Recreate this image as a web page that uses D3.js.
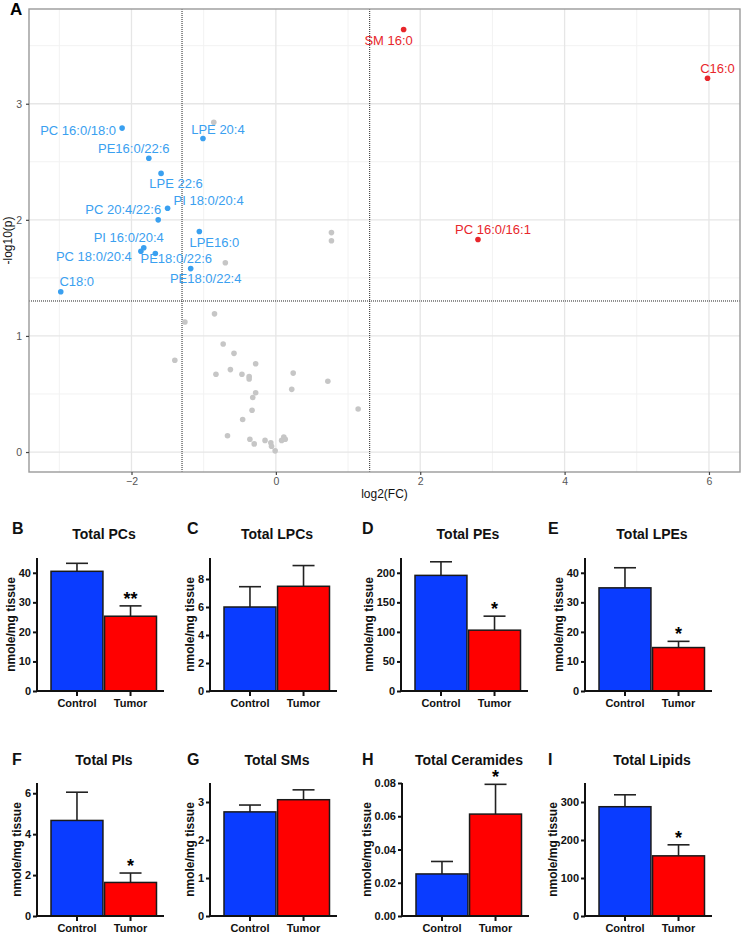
<!DOCTYPE html>
<html><head><meta charset="utf-8">
<script src="https://cdn.jsdelivr.net/npm/d3@7"></script>
<style>
body{margin:0;background:#fff}
svg{display:block;font-family:"Liberation Sans",Arial,Helvetica,sans-serif}
</style>
</head><body>
<svg id="c" width="742" height="934"></svg>
<script>
// ---------- Volcano data (panel A) ----------
const sigNames = ["SM 16:0","C16:0","PC 16:0/16:1","PC 16:0/18:0","LPE 20:4","PE16:0/22:6","LPE 22:6","PI 18:0/20:4","PC 20:4/22:6","LPE16:0","PI 16:0/20:4","PC 18:0/20:4","PE18:0/22:6","PE18:0/22:4","C18:0"];
const sigLog2FC = [1.77, 5.98, 2.80, -2.13, -1.01, -1.76, -1.59, -1.50, -1.63, -1.06, -1.83, -1.87, -1.67, -1.18, -2.98];
const sigNegLogP = [3.64, 3.22, 1.83, 2.79, 2.70, 2.53, 2.40, 2.10, 2.00, 1.90, 1.76, 1.73, 1.71, 1.58, 1.38];
const sigDirection = ["up","up","up","down","down","down","down","down","down","down","down","down","down","down","down"];
const nsLog2FC = [-0.85,-1.26,-1.40,-0.73,-0.58,-0.28,-0.83,-0.63,-0.47,-0.37,-0.37,0.24,0.72,0.22,-0.28,-0.32,1.14,-0.33,-0.46,-0.67,-0.36,-0.30,-0.15,-0.07,-0.06,-0.01,0.08,0.11,0.13,-0.86,-0.70,0.77,0.77];
const nsNegLogP = [1.19,1.12,0.79,0.93,0.85,0.76,0.67,0.71,0.67,0.65,0.63,0.68,0.61,0.54,0.51,0.47,0.37,0.36,0.28,0.14,0.11,0.07,0.10,0.08,0.05,0.01,0.10,0.13,0.11,2.84,1.63,1.89,1.82];
const fcThresholds = [-1.3, 1.3];
const pThreshold = 1.301;
const volcanoXTicks = [-2, 0, 2, 4, 6];
const volcanoYTicks = [0, 1, 2, 3];
const volcanoXMinor = [-3, -1, 1, 3, 5];
const volcanoYMinor = [0.5, 1.5, 2.5, 3.5];

// label nudges (layout, px) for the repelled labels
const labelNudge = [[-15,11],[10,-10],[15,-10],[-44,2],[15,-9],[-15,-10],[15,10],[41,-8],[-35,-10],[15,11],[-15,-10],[-47,5],[21,5],[15,10],[16,-10]];

// ---------- Bar data (panels B–I) ----------
const panelLetters = ["B","C","D","E","F","G","H","I"];
const panelTitles = ["Total PCs","Total LPCs","Total PEs","Total LPEs","Total PIs","Total SMs","Total Ceramides","Total Lipids"];
const groupNames = ["Control","Tumor"];
const controlMean = [40.5, 6.0, 195.6, 34.9, 4.67, 2.74, 0.0253, 287.6];
const controlErr  = [2.7, 1.45, 23.0, 6.8, 1.38, 0.18, 0.0075, 31.4];
const tumorMean   = [25.3, 7.48, 102.9, 14.7, 1.64, 3.06, 0.0613, 158.3];
const tumorErr    = [3.5, 1.48, 23.7, 2.1, 0.46, 0.26, 0.0179, 29.0];
const tumorSig    = ["**", "", "*", "*", "*", "", "*", "*"];
const yAxisMax    = [45, 9.5, 225, 45, 6.5, 3.5, 0.08, 350];
const yTickValues = [[0,10,20,30,40],[0,2,4,6,8],[0,50,100,150,200],[0,10,20,30,40],[0,2,4,6],[0,1,2,3],[0,0.02,0.04,0.06,0.08],[0,100,200,300]];
const yTickFormats = ["d","d","d","d","d","d",".2f","d"];
const yAxisTitle = "nmole/mg tissue";

// ---------- Layout ----------
const svg = d3.select("#c");
const VP = {left: 29, right: 740, top: 9, bottom: 472};
const colUp = "#e8262b", colDown = "#3aa0f0", colNs = "#c6c6c6";

// ---------- Panel A ----------
const vx = d3.scaleLinear().domain([-3.42, 6.43]).range([VP.left, VP.right]);
const vy = d3.scaleLinear().domain([-0.172, 3.816]).range([VP.bottom, VP.top]);
const gA = svg.append("g");

gA.append("g").selectAll("line").data(volcanoXMinor).join("line")
  .attr("x1", d => vx(d)).attr("x2", d => vx(d)).attr("y1", VP.top).attr("y2", VP.bottom)
  .attr("stroke", "#f2f2f2").attr("stroke-width", 1);
gA.append("g").selectAll("line").data(volcanoYMinor).join("line")
  .attr("y1", d => vy(d)).attr("y2", d => vy(d)).attr("x1", VP.left).attr("x2", VP.right)
  .attr("stroke", "#f2f2f2").attr("stroke-width", 1);
gA.append("g").selectAll("line").data(volcanoXTicks).join("line")
  .attr("x1", d => vx(d)).attr("x2", d => vx(d)).attr("y1", VP.top).attr("y2", VP.bottom)
  .attr("stroke", "#e6e6e6").attr("stroke-width", 1.3);
gA.append("g").selectAll("line").data(volcanoYTicks).join("line")
  .attr("y1", d => vy(d)).attr("y2", d => vy(d)).attr("x1", VP.left).attr("x2", VP.right)
  .attr("stroke", "#e6e6e6").attr("stroke-width", 1.3);

// threshold lines
gA.append("g").selectAll("line").data(fcThresholds).join("line")
  .attr("x1", d => vx(d)).attr("x2", d => vx(d)).attr("y1", VP.top).attr("y2", VP.bottom)
  .attr("stroke", "#222").attr("stroke-width", 1).attr("stroke-dasharray", "1,1");
gA.append("line").attr("x1", VP.left).attr("x2", VP.right).attr("y1", vy(pThreshold)).attr("y2", vy(pThreshold))
  .attr("stroke", "#222").attr("stroke-width", 1).attr("stroke-dasharray", "1,1");

// points
gA.append("g").selectAll("circle").data(nsLog2FC.map((v,i)=>({x:v,y:nsNegLogP[i]}))).join("circle")
  .attr("cx", d => vx(d.x)).attr("cy", d => vy(d.y)).attr("r", 2.8).attr("fill", colNs);
const sig = sigNames.map((n,i)=>({name:n, x:sigLog2FC[i], y:sigNegLogP[i], dir:sigDirection[i], nudge:labelNudge[i]}));
gA.append("g").selectAll("circle").data(sig).join("circle")
  .attr("cx", d => vx(d.x)).attr("cy", d => vy(d.y)).attr("r", 2.8)
  .attr("fill", d => d.dir === "up" ? colUp : colDown);
gA.append("g").selectAll("text").data(sig).join("text")
  .attr("x", d => vx(d.x) + d.nudge[0]).attr("y", d => vy(d.y) + d.nudge[1])
  .attr("text-anchor", "middle").attr("dominant-baseline", "central")
  .attr("font-size", 13).attr("fill", d => d.dir === "up" ? colUp : colDown)
  .text(d => d.name);

// border
gA.append("rect").attr("x", VP.left).attr("y", VP.top).attr("width", VP.right - VP.left).attr("height", VP.bottom - VP.top)
  .attr("fill", "none").attr("stroke", "#9a9a9a").attr("stroke-width", 1.4);

// axes
const axXA = gA.append("g").attr("transform", `translate(0,${VP.bottom})`)
  .call(d3.axisBottom(vx).tickValues(volcanoXTicks).tickSize(3).tickPadding(3).tickFormat(d3.format("d")));
const axYA = gA.append("g").attr("transform", `translate(${VP.left},0)`)
  .call(d3.axisLeft(vy).tickValues(volcanoYTicks).tickSize(3).tickPadding(4).tickFormat(d3.format("d")));
[axXA, axYA].forEach(a => {
  a.select(".domain").remove();
  a.selectAll(".tick line").attr("stroke", "#444").attr("stroke-width", 1.2);
  a.selectAll(".tick text").attr("fill", "#555").attr("font-size", 10.5).attr("font-family", null);
});
gA.append("text").attr("x", (VP.left + VP.right) / 2).attr("y", 498).attr("text-anchor", "middle")
  .attr("font-size", 12).attr("fill", "#111").text("log2(FC)");
gA.append("text").attr("transform", `translate(12,${(VP.top + VP.bottom) / 2}) rotate(-90)`).attr("text-anchor", "middle")
  .attr("font-size", 12).attr("fill", "#111").text("-log10(p)");
svg.append("text").attr("x", 10).attr("y", 15).attr("font-size", 17).attr("font-weight", "bold").text("A");

// ---------- Panels B–I ----------
const axisXs = [37, 210, 401, 585, 37, 210, 402, 585];
const rowTop = [558, 783], rowBottom = [691, 916];
const letterXs = [12, 187, 362, 548];
const letterY = [533.5, 765], titleY = [539, 764.5];
const barColors = ["#0a3cff", "#ff0000"];

panelTitles.forEach((title, i) => {
  const row = Math.floor(i / 4), col = i % 4;
  const ax = axisXs[i], top = rowTop[row], bot = rowBottom[row];
  const g = svg.append("g");
  const y = d3.scaleLinear().domain([0, yAxisMax[i]]).range([bot, top]);
  const x = d3.scaleBand().domain(groupNames).range([ax + 14, ax + 119.5]).paddingInner(0.03).paddingOuter(0);
  const vals = [
    {g: groupNames[0], m: controlMean[i], e: controlErr[i], s: "", c: barColors[0]},
    {g: groupNames[1], m: tumorMean[i], e: tumorErr[i], s: tumorSig[i], c: barColors[1]}
  ];
  // error bars (upper only)
  g.selectAll("line.eb").data(vals).join("line").attr("class", "eb")
    .attr("x1", d => x(d.g) + x.bandwidth() / 2).attr("x2", d => x(d.g) + x.bandwidth() / 2)
    .attr("y1", d => y(d.m)).attr("y2", d => y(d.m + d.e)).attr("stroke", "#222").attr("stroke-width", 1.6);
  g.selectAll("line.cap").data(vals).join("line").attr("class", "cap")
    .attr("x1", d => x(d.g) + x.bandwidth() / 2 - 11).attr("x2", d => x(d.g) + x.bandwidth() / 2 + 11)
    .attr("y1", d => y(d.m + d.e)).attr("y2", d => y(d.m + d.e)).attr("stroke", "#222").attr("stroke-width", 1.6);
  g.selectAll("rect").data(vals).join("rect")
    .attr("x", d => x(d.g)).attr("width", x.bandwidth())
    .attr("y", d => y(d.m)).attr("height", d => y(0) - y(d.m))
    .attr("fill", d => d.c).attr("stroke", "#1a1a1a").attr("stroke-width", 1.5);
  g.selectAll("text.sig").data(vals.filter(d => d.s)).join("text").attr("class", "sig")
    .attr("x", d => x(d.g) + x.bandwidth() / 2).attr("y", d => y(d.m + d.e) - 1)
    .attr("text-anchor", "middle").attr("font-size", 18).attr("font-weight", "bold").text(d => d.s);
  // y axis
  const ya = g.append("g").attr("transform", `translate(${ax},0)`)
    .call(d3.axisLeft(y).tickValues(yTickValues[i]).tickSize(4).tickPadding(2).tickFormat(d3.format(yTickFormats[i])));
  ya.select(".domain").attr("stroke", "#111").attr("stroke-width", 2).attr("d", `M0,${top}V${bot}`);
  ya.selectAll(".tick line").attr("stroke", "#111").attr("stroke-width", 2);
  ya.selectAll(".tick text").attr("font-size", 11).attr("font-weight", "bold").attr("fill", "#111").attr("font-family", null);
  const yb = ya.node().getBBox();
  g.append("text").attr("transform", `translate(${ax + yb.x - 4},${(top + bot) / 2}) rotate(-90)`)
    .attr("text-anchor", "middle").attr("font-size", 12).attr("font-weight", "bold").attr("fill", "#111").text(yAxisTitle);
  // x axis
  const xa = g.append("g").attr("transform", `translate(0,${bot})`)
    .call(d3.axisBottom(x).tickSize(5).tickPadding(3));
  xa.select(".domain").attr("stroke", "#111").attr("stroke-width", 2).attr("d", `M${ax},0H${ax + 127}`);
  xa.selectAll(".tick line").attr("stroke", "#111").attr("stroke-width", 2);
  xa.selectAll(".tick text").attr("font-size", 11).attr("font-weight", "bold").attr("fill", "#111").attr("font-family", null);
  // title and letter
  g.append("text").attr("x", ax + 67).attr("y", titleY[row]).attr("text-anchor", "middle")
    .attr("font-size", 14).attr("font-weight", "bold").attr("fill", "#111").text(title);
  svg.append("text").attr("x", letterXs[col]).attr("y", letterY[row]).attr("font-size", 16)
    .attr("font-weight", "bold").attr("fill", "#111").text(panelLetters[i]);
});
</script>
</body></html>
